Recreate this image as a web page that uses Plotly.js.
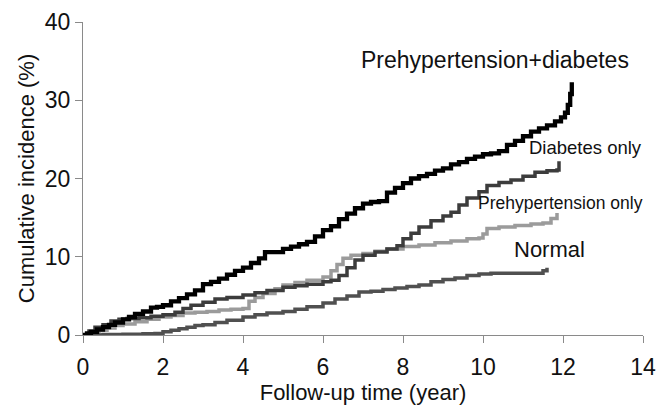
<!DOCTYPE html>
<html>
<head>
<meta charset="utf-8">
<script src="https://cdn.plot.ly/plotly-3.0.1.min.js"></script>
<style>html,body{margin:0;padding:0;background:#fff;}#chart{width:658px;height:405px;}</style>
</head>
<body>
<div id="chart"></div>
<script>
// Prehypertension+diabetes
const tPD = [0,0.1,0.2,0.35,0.5,0.65,0.8,1.0,1.15,1.3,1.5,1.7,1.85,2.0,2.2,2.4,2.6,2.8,3.0,3.2,3.4,3.6,3.8,4.0,4.2,4.4,4.55,4.7,5.0,5.2,5.4,5.6,5.8,6.0,6.2,6.4,6.6,6.8,7.0,7.2,7.4,7.6,7.8,8.0,8.2,8.4,8.6,8.8,9.0,9.2,9.4,9.6,9.8,10.0,10.2,10.4,10.6,10.8,11.0,11.2,11.4,11.6,11.8,11.95,12.05,12.12,12.18,12.22];
const vPD = [0,0.2,0.4,0.7,1.0,1.3,1.6,2.0,2.3,2.7,3.0,3.5,3.6,3.8,4.3,4.7,5.2,5.7,6.5,6.8,7.2,7.7,8.2,8.6,9.2,9.8,10.6,10.6,11.0,11.3,11.6,11.9,12.6,13.4,13.9,14.8,15.5,16.2,16.8,17.0,17.1,18.2,18.8,19.4,20.0,20.3,20.6,21.0,21.3,21.8,22.1,22.5,22.8,23.1,23.2,23.5,24.3,24.8,25.4,26.0,26.4,26.8,27.3,27.8,28.4,29.4,30.8,32.3];
// Diabetes only
const tD = [0,0.15,0.3,0.5,0.7,0.9,1.1,1.4,1.7,2.0,2.3,2.5,2.7,3.0,3.3,3.6,4.0,4.3,4.6,5.0,5.3,5.6,6.0,6.2,6.4,6.6,6.8,7.0,7.3,7.6,7.85,8.0,8.2,8.4,8.7,9.0,9.2,9.4,9.6,9.9,10.1,10.4,10.7,11.0,11.3,11.6,11.85,11.9];
const vD = [0,0.5,1.0,1.3,1.8,2.0,2.1,2.2,2.4,2.6,2.9,3.4,3.8,4.2,4.6,4.8,5.1,5.4,5.7,6.1,6.3,6.5,6.8,7.0,7.6,8.6,9.6,10.2,10.6,11.0,11.4,12.3,13.0,13.8,14.6,15.2,15.7,16.6,17.5,18.3,19.1,19.5,19.8,20.3,20.8,21.0,21.1,22.2];
// Prehypertension only
const tPH = [0,0.2,0.4,0.6,0.8,1.0,1.3,1.6,1.9,2.2,2.5,2.8,3.1,3.4,3.7,4.0,4.15,4.3,4.5,4.8,5.0,5.3,5.6,6.0,6.2,6.35,6.5,6.7,7.0,7.3,7.6,8.0,8.4,8.8,9.2,9.6,9.9,10.0,10.1,10.4,10.8,11.2,11.5,11.7,11.85];
const vPH = [0,0.3,0.6,0.9,1.2,1.4,1.7,2.0,2.3,2.5,2.8,2.9,3.0,3.2,3.3,3.4,4.3,4.8,5.3,5.9,6.4,6.7,7.0,7.4,8.2,9.0,9.8,10.2,10.4,10.7,11.0,11.3,11.5,11.8,12.0,12.3,12.4,12.9,13.6,13.8,14.0,14.2,14.3,14.9,15.6];
// Normal
const tN = [0,0.5,1.0,1.5,1.8,2.0,2.2,2.4,2.6,2.8,3.0,3.3,3.6,4.0,4.3,4.6,5.0,5.3,5.6,6.0,6.3,6.6,6.9,7.2,7.5,7.8,8.1,8.4,8.7,9.0,9.3,9.6,9.9,10.2,10.6,11.0,11.4,11.5,11.6];
const vN = [0,0.05,0.1,0.15,0.2,0.4,0.6,0.8,1.0,1.2,1.3,1.6,1.9,2.3,2.6,2.8,3.0,3.3,3.6,4.1,4.6,5.0,5.5,5.6,5.8,6.0,6.2,6.4,6.8,7.1,7.3,7.6,7.8,7.9,7.9,7.9,7.9,8.2,8.6];

const labels = ["Prehypertension+diabetes","Diabetes only","Prehypertension only","Normal"];
const xTicks = [0,2,4,6,8,10,12,14];
const yTicks = [0,10,20,30,40];

const FONT = "Liberation Sans, Arial, Helvetica, sans-serif";
function tr(x,y,color,w){return {x:x,y:y,type:'scatter',mode:'lines',line:{shape:'hv',color:color,width:w},hoverinfo:'skip',showlegend:false};}

const data = [
  tr(tPH,vPH,'#9b9b9b',3.5),
  tr(tN,vN,'#505050',3.5),
  tr(tD,vD,'#3c3c3c',3.5),
  tr(tPD,vPD,'#000000',4.3)
];

const axisCommon = {showline:true,linecolor:'#8a8a8a',linewidth:1,ticks:'outside',ticklen:7,tickcolor:'#8a8a8a',showgrid:false,zeroline:false,tickfont:{family:FONT,size:23,color:'#111'}};

const layout = {
  width:658,height:405,
  margin:{l:83,r:15,t:22,b:70},
  paper_bgcolor:'#fff',plot_bgcolor:'#fff',
  font:{family:FONT,color:'#111'},
  xaxis:Object.assign({},axisCommon,{range:[0,14],tickvals:xTicks,ticktext:xTicks.map(String),ticklabelstandoff:4,title:{text:'Follow-up time (year)',font:{family:FONT,size:22,color:'#111'},standoff:6}}),
  yaxis:Object.assign({},axisCommon,{range:[0,40],tickvals:yTicks,ticktext:yTicks.map(String),title:{text:'Cumulative incidence (%)',font:{family:FONT,size:22,color:'#111'},standoff:4}}),
  annotations:[
    {x:10.3,y:35.2,text:labels[0],showarrow:false,font:{family:FONT,size:23,color:'#111'}},
    {x:12.55,y:24.0,text:labels[1],showarrow:false,font:{family:FONT,size:18.5,color:'#111'}},
    {x:11.93,y:16.9,text:labels[2],showarrow:false,font:{family:FONT,size:17.5,color:'#111'}},
    {x:11.65,y:10.9,text:labels[3],showarrow:false,font:{family:FONT,size:22,color:'#111'}}
  ]
};
Plotly.newPlot('chart',data,layout,{displayModeBar:false,staticPlot:true});
</script>
</body>
</html>
